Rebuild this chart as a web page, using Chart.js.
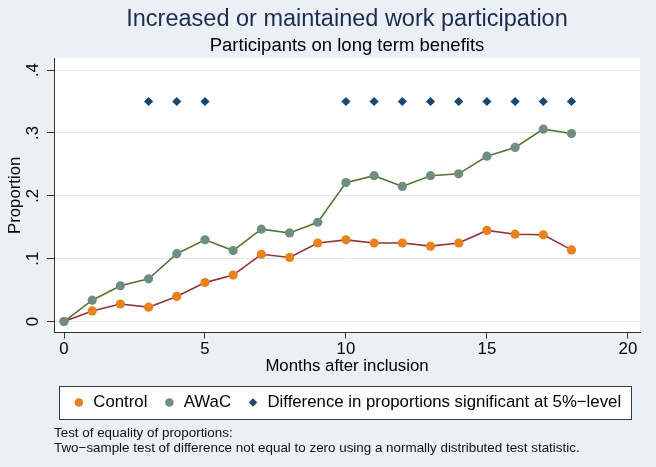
<!DOCTYPE html>
<html><head><meta charset="utf-8">
<script src="https://cdn.jsdelivr.net/npm/chart.js@4.4.1/dist/chart.umd.min.js"></script>
<style>
html,body{margin:0;padding:0;background:#eaf0f3;}
#wrap{position:relative;width:656px;height:467px;overflow:hidden;background:#eaf0f3;}
canvas{position:absolute;left:0;top:0;}
#note{position:absolute;left:54px;top:425px;font-family:"Liberation Sans",Arial,sans-serif;font-size:13.4px;line-height:15px;color:#111;white-space:nowrap;}
</style></head><body>
<div id="wrap"><canvas id="c" width="656" height="467"></canvas>
<div id="note">Test of equality of proportions:<br>Two−sample test of difference not equal to zero using a normally distributed test statistic.</div></div>
<script>
// ---- data ----
const months  = [0,1,2,3,4,5,6,7,8,9,10,11,12,13,14,15,16,17,18];
const control = [0,0.017,0.028,0.023,0.040,0.062,0.074,0.107,0.102,0.125,0.130,0.125,0.125,0.120,0.125,0.145,0.139,0.138,0.114];
const awac    = [0,0.034,0.057,0.068,0.108,0.130,0.113,0.147,0.141,0.158,0.221,0.232,0.215,0.232,0.235,0.263,0.277,0.306,0.299];
const sigMonths = [3,4,5,10,11,12,13,14,15,16,17,18];
const sigY      = [0.35,0.35,0.35,0.35,0.35,0.35,0.35,0.35,0.35,0.35,0.35,0.35];
const xTicks = [0,5,10,15,20];
const yTicks = [0,0.1,0.2,0.3,0.4];
const yTickLabels = ["0",".1",".2",".3",".4"];

const FAM = '"Liberation Sans", Arial, Helvetica, sans-serif';

const bgPlugin = {
  id:'bg',
  beforeDraw(chart){
    const {ctx, chartArea:a} = chart;
    ctx.save();
    ctx.fillStyle = '#ffffff';
    ctx.fillRect(a.left, a.top, a.right-a.left, a.bottom-a.top);
    const lg = chart.legend;
    if (lg && lg.legendHitBoxes && lg.legendHitBoxes.length){
      const hb = lg.legendHitBoxes;
      const l = Math.min(...hb.map(h=>h.left)) - 14;
      const r = Math.max(...hb.map(h=>h.left+h.width)) + 10;
      const t = hb[0].top - 8, b = hb[0].top + hb[0].height + 8;
      ctx.fillStyle = '#ffffff';
      ctx.fillRect(l, t, r-l, b-t);
      ctx.strokeStyle = '#3a3a3a';
      ctx.lineWidth = 1;
      ctx.strokeRect(Math.round(l)+0.5, Math.round(t)+0.5, Math.round(r-l), Math.round(b-t));
    }
    ctx.restore();
  }
};

new Chart(document.getElementById('c'), {
  type:'scatter',
  data:{
    datasets:[
      {label:'Control', data: months.map((m,i)=>({x:m,y:control[i]})), showLine:true,
       borderColor:'#90353b', borderWidth:1.6, backgroundColor:'#e8821e',
       pointBackgroundColor:'#e8821e', pointBorderColor:'#e8821e', pointBorderWidth:0,
       pointRadius:4.6, pointStyle:'circle', order:2},
      {label:'AWaC', data: months.map((m,i)=>({x:m,y:awac[i]})), showLine:true,
       borderColor:'#55752f', borderWidth:1.6, backgroundColor:'#6e8e84',
       pointBackgroundColor:'#6e8e84', pointBorderColor:'#6e8e84', pointBorderWidth:0,
       pointRadius:4.6, pointStyle:'circle', order:1},
      {label:'Difference in proportions significant at 5%−level', data: sigMonths.map((m,i)=>({x:m,y:sigY[i]})), showLine:false,
       backgroundColor:'#1a476f', borderColor:'#1a476f',
       pointBackgroundColor:'#1a476f', pointBorderColor:'#1a476f', pointBorderWidth:0,
       pointRadius:4.6, pointStyle:'rectRot', order:0}
    ]
  },
  options:{
    responsive:false, animation:false, events:[],
    layout:{padding:{left:0,right:16,top:0,bottom:46}},
    plugins:{
      tooltip:{enabled:false},
      title:{display:true, text:'Increased or maintained work participation', fullSize:false,
        color:'#1c2b52', font:{family:FAM, size:23.5, weight:'normal', lineHeight:1.2}, padding:{top:5,bottom:1}},
      subtitle:{display:true, text:'Participants on long term benefits', fullSize:false,
        color:'#000', font:{family:FAM, size:18.5, weight:'normal', lineHeight:1.2}, padding:{top:0.8,bottom:0.9}},
      legend:{display:true, position:'bottom', fullSize:false,
        labels:{usePointStyle:true, boxWidth:12, boxHeight:6, padding:16, color:'#000',
          font:{family:FAM, size:16.8},
          sort:(a,b)=>a.datasetIndex-b.datasetIndex,
          generateLabels:(chart)=>chart.data.datasets.map((ds,i)=>({
            text:ds.label, fillStyle:ds.pointBackgroundColor, strokeStyle:ds.pointBackgroundColor,
            lineWidth:0, pointStyle:ds.pointStyle, datasetIndex:i, hidden:false, fontColor:'#000'}))
        }}
    },
    scales:{
      x:{type:'linear', min:-0.355, max:20.43,
        afterBuildTicks:s=>{ s.ticks = xTicks.map(v=>({value:v})); },
        afterFit:s=>{ s.height = 45.6; },
        grid:{drawOnChartArea:false, drawTicks:true, tickLength:6, tickColor:'#333', color:'#333'},
        border:{display:true, color:'#333', width:1},
        ticks:{padding:1, autoSkip:false, maxRotation:0, color:'#000', font:{family:FAM, size:16.8}},
        title:{display:true, text:'Months after inclusion', color:'#000',
          font:{family:FAM, size:16.8, lineHeight:1}, padding:{top:0,bottom:3.2}}
      },
      y:{type:'linear', min:-0.0175, max:0.419,
        afterBuildTicks:s=>{ s.ticks = yTicks.map(v=>({value:v})); },
        afterFit:s=>{ s.width = 54; },
        grid:{color:'#e2eaee', lineWidth:1, drawTicks:true, tickLength:7, tickColor:'#333'},
        border:{display:true, color:'#333', width:1},
        ticks:{padding:7, autoSkip:false, minRotation:90, maxRotation:90, crossAlign:'center', color:'#000',
          font:{family:FAM, size:16.8},
          callback:(v)=>{ const k = yTicks.findIndex(t=>Math.abs(t-v)<1e-9); return k>=0 ? yTickLabels[k] : ''; }},
        title:{display:true, text:'Proportion', color:'#000',
          font:{family:FAM, size:16.8, lineHeight:1.2}, padding:{top:5,bottom:0}}
      }
    }
  },
  plugins:[bgPlugin]
});
</script>
</body></html>
